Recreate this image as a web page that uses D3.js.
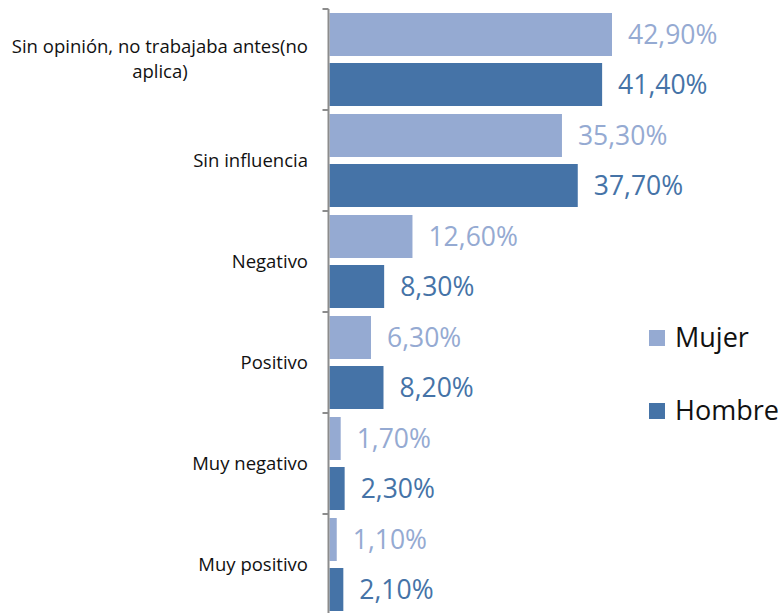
<!DOCTYPE html>
<html>
<head>
<meta charset="utf-8">
<script src="https://cdn.jsdelivr.net/npm/d3@7"></script>
<style>
  body { margin: 0; background: #fff; }
  svg { display: block; }
</style>
</head>
<body>
<svg id="chart" width="781" height="613"></svg>
<script>
// categories top to bottom
const categories = [
  ['Sin opinión, no trabajaba antes(no', 'aplica)'],
  ['Sin influencia'],
  ['Negativo'],
  ['Positivo'],
  ['Muy negativo'],
  ['Muy positivo']
]
const series = ['Mujer', 'Hombre']
const mujer = [42.9, 35.3, 12.6, 6.3, 1.7, 1.1]
const hombre = [41.4, 37.7, 8.3, 8.2, 2.3, 2.1]
const colors = { Mujer: '#95aad2', Hombre: '#4573a7' }

const svg = d3.select('#chart')
const axisX = 328.5
const font = '"Open Sans", sans-serif'

const y = d3.scaleBand()
  .domain(d3.range(categories.length))
  .range([9, 615])

const yInner = d3.scaleBand()
  .domain(series)
  .range([0, y.bandwidth()])
  .paddingInner(0.14)
  .paddingOuter(0.08)

const x = d3.scaleLinear()
  .domain([0, 42.9])
  .range([axisX + 1, 612])

const rows = categories.map(function(c, i) {
  return { i: i, label: c, Mujer: mujer[i], Hombre: hombre[i] }
})

// bars
const groups = svg.selectAll('g.row')
  .data(rows)
  .enter().append('g')
  .attr('class', 'row')
  .attr('transform', d => 'translate(0,' + y(d.i) + ')')

series.forEach(function(s) {
  groups.append('rect')
    .attr('x', x(0))
    .attr('y', yInner(s))
    .attr('width', d => x(d[s]) - x(0))
    .attr('height', yInner.bandwidth())
    .attr('fill', colors[s])

  groups.append('text')
    .attr('x', d => x(d[s]) + 16)
    .attr('y', yInner(s) + yInner.bandwidth() / 2)
    .attr('dy', '0.35em')
    .attr('font-family', font)
    .attr('font-size', 26.5)
    .attr('fill', colors[s])
    .text(d => d[s].toFixed(2).replace('.', ',') + '%')
})

// axis line + ticks at band boundaries
svg.append('line')
  .attr('x1', axisX).attr('x2', axisX)
  .attr('y1', y.range()[0]).attr('y2', 613)
  .attr('stroke', '#8c8c8c').attr('stroke-width', 2)

const bounds = d3.range(categories.length).map(i => y(i))
svg.selectAll('line.tick')
  .data(bounds)
  .enter().append('line')
  .attr('class', 'tick')
  .attr('x1', axisX - 6).attr('x2', axisX)
  .attr('y1', d => d).attr('y2', d => d)
  .attr('stroke', '#8c8c8c').attr('stroke-width', 2)

// category labels, multi-line ones centered like excel does
const labelRight = 308
const lineH = 25
rows.forEach(function(d) {
  const cy = y(d.i) + y.bandwidth() / 2
  const t = svg.append('text')
    .attr('font-family', font)
    .attr('font-size', 18.5)
    .attr('fill', '#111')
  d.label.forEach(function(line, k) {
    t.append('tspan')
      .attr('y', cy + (k - (d.label.length - 1) / 2) * lineH)
      .attr('dy', '0.35em')
      .text(line)
  })
  if (d.label.length === 1) {
    t.attr('text-anchor', 'end').selectAll('tspan').attr('x', labelRight)
  } else {
    let w = 0
    t.selectAll('tspan').each(function() { w = Math.max(w, this.getComputedTextLength()) })
    t.attr('text-anchor', 'middle').selectAll('tspan').attr('x', labelRight - w / 2)
  }
})

// legend
const legend = svg.selectAll('g.legend')
  .data(series)
  .enter().append('g')
  .attr('class', 'legend')
  .attr('transform', (d, i) => 'translate(649,' + (338 + i * 73) + ')')

legend.append('rect')
  .attr('x', 0).attr('y', -8)
  .attr('width', 16).attr('height', 16)
  .attr('fill', d => colors[d])

legend.append('text')
  .attr('x', 26)
  .attr('dy', '0.35em')
  .attr('font-family', font)
  .attr('font-size', 27)
  .attr('fill', '#111')
  .text(d => d)
</script>
</body>
</html>
